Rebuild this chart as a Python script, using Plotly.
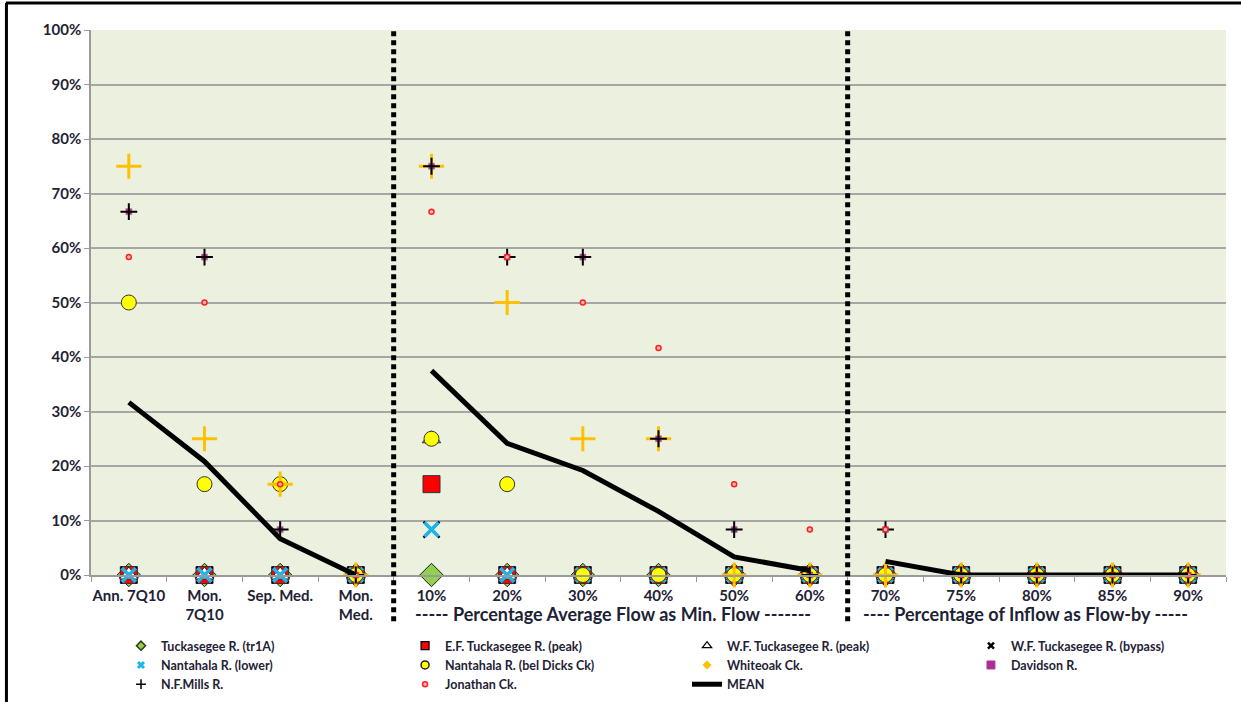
import plotly.graph_objects as go

categories = ["Ann. 7Q10", "Mon.<br>7Q10", "Sep. Med.", "Mon.<br>Med.",
              "10%", "20%", "30%", "40%", "50%", "60%",
              "70%", "75%", "80%", "85%", "90%"]
# groups separated by dotted lines (mean line breaks between groups)
group_ends = [3, 9]

tuck_tr1a   = [0, 0, 0, 0, 0, 0, 0, 0, 0, 0, 0, 0, 0, 0, 0]
ef_tuck     = [0, 0, 0, 0, 16.67, 0, 0, 0, 0, 0, 0, 0, 0, 0, 0]
wf_peak     = [0, 0, 0, 0, 25, 0, 0, 0, 0, 0, 0, 0, 0, 0, 0]
wf_bypass   = [0, 0, 0, 0, 8.33, 0, 0, 0, 0, 0, 0, 0, 0, 0, 0]
nant_lower  = [0, 0, 0, 0, 8.33, 0, 0, 0, 0, 0, 0, 0, 0, 0, 0]
nant_dicks  = [50, 16.67, 16.67, 0, 25, 16.67, 0, 0, 0, 0, 0, 0, 0, 0, 0]
whiteoak    = [75, 25, 16.67, 0, 75, 50, 25, 25, 0, 0, 0, 0, 0, 0, 0]
davidson    = [66.67, 58.33, 8.33, 0, 75, 58.33, 58.33, 25, 8.33, 0, 8.33, 0, 0, 0, 0]
nf_mills    = [66.67, 58.33, 8.33, 0, 75, 58.33, 58.33, 25, 8.33, 0, 8.33, 0, 0, 0, 0]
jonathan    = [58.33, 50, 16.67, 0, 66.67, 58.33, 50, 41.67, 16.67, 8.33, 8.33, 0, 0, 0, 0]
mean_vals   = [31.67, 20.83, 6.67, 0, 37.5, 24.17, 19.17, 11.67, 3.33, 0.83, 2.5, 0, 0, 0, 0]

y_ticks = [0, 10, 20, 30, 40, 50, 60, 70, 80, 90, 100]
y_labels = [f"{v}%" for v in y_ticks]

TXT = "#1E2235"
FONT = "Lato, Liberation Sans, Arial"

fig = go.Figure()

# (name, values, plot marker, legend marker, legend column)
series = [
    ("Tuckasegee R. (tr1A)", tuck_tr1a,
     dict(symbol="diamond", size=18, color="#92D050", line=dict(color="#1a1a1a", width=1)),
     dict(symbol="diamond", size=7, color="#92D050", line=dict(color="#2d3d10", width=1.5)), "legend"),
    ("E.F. Tuckasegee R. (peak)", ef_tuck,
     dict(symbol="square", size=17, color="#FF0000", line=dict(color="#333333", width=1)),
     dict(symbol="square", size=8, color="#FF0000", line=dict(color="#000000", width=1.2)), "legend2"),
    ("W.F. Tuckasegee R. (peak)", wf_peak,
     dict(symbol="triangle-up", size=16, color="#FFFFFF", line=dict(color="#222222", width=1)),
     dict(symbol="triangle-up-open", size=8, color="#000000", line=dict(color="#000000", width=1.3)), "legend3"),
    ("W.F. Tuckasegee R. (bypass)", wf_bypass,
     dict(symbol="x-thin", size=16, color="#000000", line=dict(color="#000000", width=2.5)),
     dict(symbol="x-thin", size=6, color="#000000", line=dict(color="#000000", width=2.5)), "legend4"),
    ("Nantahala R. (lower)", nant_lower,
     dict(symbol="x-thin", size=14, color="#1EB4EC", line=dict(color="#1EB4EC", width=3.5)),
     dict(symbol="x-thin", size=6, color="#1EB4EC", line=dict(color="#1EB4EC", width=3)), "legend"),
    ("Nantahala R. (bel Dicks Ck)", nant_dicks,
     dict(symbol="circle", size=15, color="#FFFF00", line=dict(color="#333333", width=1)),
     dict(symbol="circle", size=8, color="#FFFF00", line=dict(color="#222222", width=1.5)), "legend2"),
    ("Whiteoak Ck.", whiteoak,
     dict(symbol="cross-thin", size=18, color="#FFC000", line=dict(color="#FFC000", width=3)),
     dict(symbol="diamond", size=7, color="#FFC000", line=dict(color="#FFC000", width=0)), "legend3"),
    ("Davidson R.", davidson,
     dict(symbol="square", size=6, color="#A0409A", line=dict(color="#D0508A", width=0.5)),
     dict(symbol="square", size=8, color="#A0309A", line=dict(color="#D03080", width=1)), "legend4"),
    ("N.F.Mills R.", nf_mills,
     dict(symbol="cross-thin", size=12, color="#000000", line=dict(color="#000000", width=2)),
     dict(symbol="cross-thin", size=7, color="#000000", line=dict(color="#000000", width=1.5)), "legend"),
    ("Jonathan Ck.", jonathan,
     dict(symbol="circle", size=5, color="#FFB6B6", line=dict(color="#FF2020", width=1.5)),
     dict(symbol="circle", size=5, color="#FFB6B6", line=dict(color="#FF2020", width=1.5)), "legend2"),
]

for name, vals, mk, lmk, lg in series:
    fig.add_trace(go.Scatter(x=categories, y=vals, mode="markers", name=name,
                             marker=mk, showlegend=False,
                             cliponaxis=False, hoverinfo="x+y+name"))

# mean line with breaks between groups
mx, my = [], []
for i, (c, v) in enumerate(zip(categories, mean_vals)):
    mx.append(c)
    my.append(v)
    if i in group_ends:
        mx.append(c)
        my.append(None)
fig.add_trace(go.Scatter(x=mx, y=my, mode="lines", name="MEAN", showlegend=False,
                         connectgaps=False,
                         line=dict(color="#000000", width=5), cliponaxis=False))

# legend entries, laid out in 4 columns like the original
for name, vals, mk, lmk, lg in series:
    fig.add_trace(go.Scatter(x=[None], y=[None], mode="markers", name=name,
                             marker=lmk, showlegend=True, legend=lg))
fig.add_trace(go.Scatter(x=[None], y=[None], mode="lines", name="MEAN",
                         line=dict(color="#000000", width=5), showlegend=True,
                         legend="legend3"))

shapes = []
# dotted separators
for xb in [3.5, 9.5]:
    shapes.append(dict(type="line", xref="x", yref="paper", x0=xb, x1=xb,
                       y0=-0.085, y1=1.0, line=dict(color="#000000", width=5, dash="5px,4px")))
# outer border (top and left)
shapes.append(dict(type="line", xref="paper", yref="paper", x0=-0.075, x1=1.02,
                   y0=1.0495, y1=1.0495, line=dict(color="#000000", width=3)))
shapes.append(dict(type="line", xref="paper", yref="paper", x0=-0.0745, x1=-0.0745,
                   y0=1.0495, y1=-0.24, line=dict(color="#000000", width=3)))

annotations = [
    dict(text="<b>----- Percentage Average Flow as Min. Flow -------</b>", x=6.4, y=-0.0716,
         xref="x", yref="paper", yanchor="middle", showarrow=False,
         font=dict(family=FONT, size=18, color=TXT)),
    dict(text="<b>---- Percentage of Inflow as Flow-by -----</b>", x=11.85, y=-0.0716,
         xref="x", yref="paper", yanchor="middle", showarrow=False,
         font=dict(family=FONT, size=18, color=TXT)),
]

leg_common = dict(orientation="v", xanchor="left", yanchor="top",
                  xref="container", yref="container", y=0.101,
                  traceorder="normal", tracegroupgap=0,
                  font=dict(family=FONT, size=12.5, color=TXT, weight="bold"),
                  bgcolor="rgba(0,0,0,0)", borderwidth=0)

fig.update_layout(
    width=1241, height=702,
    margin=dict(l=91, r=15, t=30, b=127, autoexpand=False),
    paper_bgcolor="#FFFFFF",
    plot_bgcolor="#EBF0DF",
    font=dict(family=FONT, color=TXT),
    shapes=shapes,
    annotations=annotations,
    showlegend=True,
    legend=dict(x=0.0975, **leg_common),
    legend2=dict(x=0.3264, **leg_common),
    legend3=dict(x=0.5536, **leg_common),
    legend4=dict(x=0.7824, **leg_common),
    xaxis=dict(type="category", categoryorder="array", categoryarray=categories,
               range=[-0.5, 14.5], showgrid=False, showline=True, linecolor="#9A9A9A",
               linewidth=1.5, ticks="outside", tickson="boundaries", ticklen=5,
               tickcolor="#9A9A9A", tickwidth=1, automargin=False, tickangle=0,
               ticklabelstandoff=6,
               tickfont=dict(family=FONT, size=15, color=TXT, weight="bold")),
    yaxis=dict(range=[0, 100], tickvals=y_ticks, ticktext=y_labels, showgrid=True,
               gridcolor="#A6A6A6", gridwidth=1.5, showline=True, linecolor="#9A9A9A",
               linewidth=1.5, ticks="outside", ticklen=5, tickcolor="#9A9A9A",
               zeroline=False, automargin=False,
               tickfont=dict(family=FONT, size=15, color=TXT, weight="bold")),
)

fig.write_html("out.html", config={"displayModeBar": False},
               post_script="document.body.style.margin='0';")
